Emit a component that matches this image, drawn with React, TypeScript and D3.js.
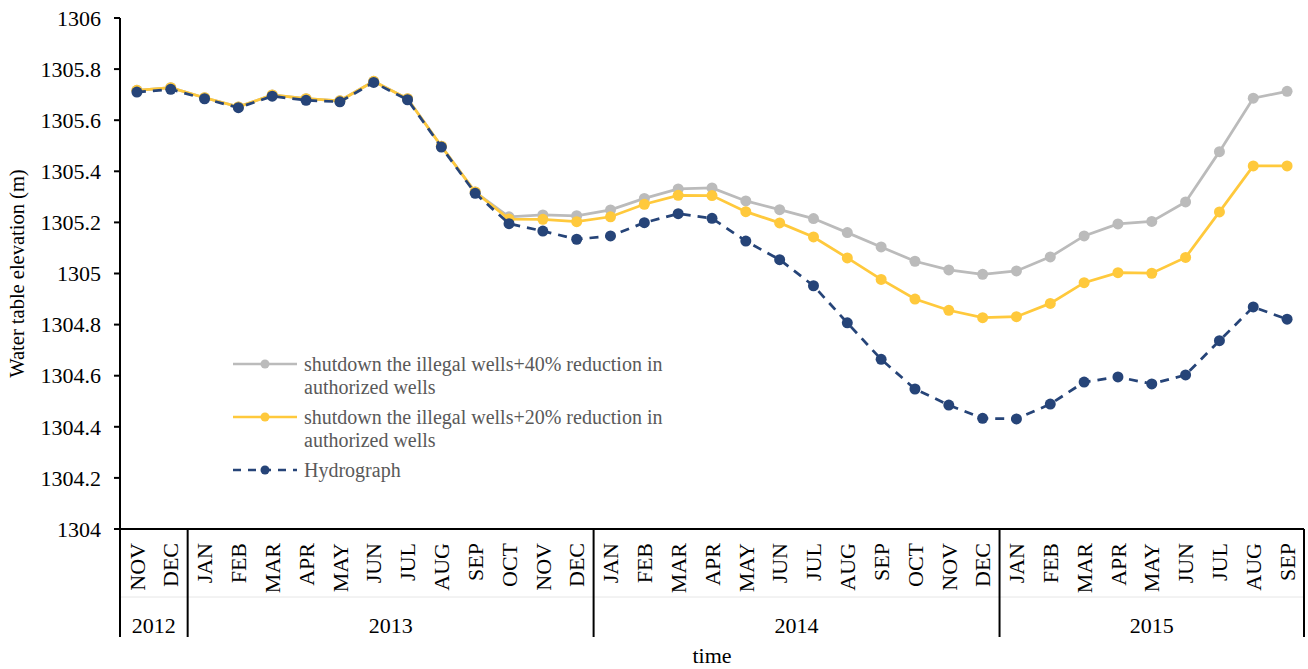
import React from "react";
import * as d3 from "d3";

// Month categories grouped by year
const years = ["2012", "2013", "2014", "2015"];
const monthsByYear: string[][] = [
  ["NOV", "DEC"],
  ["JAN", "FEB", "MAR", "APR", "MAY", "JUN", "JUL", "AUG", "SEP", "OCT", "NOV", "DEC"],
  ["JAN", "FEB", "MAR", "APR", "MAY", "JUN", "JUL", "AUG", "SEP", "OCT", "NOV", "DEC"],
  ["JAN", "FEB", "MAR", "APR", "MAY", "JUN", "JUL", "AUG", "SEP"],
];

const yTicks = [1304, 1304.2, 1304.4, 1304.6, 1304.8, 1305, 1305.2, 1305.4, 1305.6, 1305.8, 1306];

// Water table elevation (m), scenario: illegal wells shut + 40% cut in authorized wells
const reduction40 = [
  1305.717, 1305.727, 1305.688, 1305.652, 1305.699, 1305.684, 1305.676, 1305.752, 1305.684, 1305.498,
  1305.319, 1305.222, 1305.229, 1305.226, 1305.249, 1305.294, 1305.331, 1305.335, 1305.284, 1305.250,
  1305.215, 1305.160, 1305.104, 1305.048, 1305.014, 1304.997, 1305.010, 1305.065, 1305.147, 1305.194,
  1305.204, 1305.280, 1305.477, 1305.686, 1305.713,
];

// Scenario: illegal wells shut + 20% cut in authorized wells
const reduction20 = [
  1305.717, 1305.727, 1305.688, 1305.652, 1305.699, 1305.684, 1305.676, 1305.752, 1305.684, 1305.498,
  1305.319, 1305.213, 1305.212, 1305.203, 1305.222, 1305.271, 1305.306, 1305.305, 1305.242, 1305.198,
  1305.143, 1305.061, 1304.977, 1304.900, 1304.856, 1304.827, 1304.831, 1304.883, 1304.964, 1305.003,
  1305.001, 1305.063, 1305.241, 1305.421, 1305.421,
];

// Observed hydrograph
const hydrograph = [
  1305.710, 1305.721, 1305.684, 1305.649, 1305.694, 1305.678, 1305.672, 1305.748, 1305.680, 1305.495,
  1305.314, 1305.195, 1305.166, 1305.134, 1305.147, 1305.199, 1305.234, 1305.216, 1305.127, 1305.054,
  1304.952, 1304.807, 1304.664, 1304.548, 1304.485, 1304.433, 1304.431, 1304.489, 1304.575, 1304.595,
  1304.568, 1304.603, 1304.737, 1304.869, 1304.821,
];

const seriesNames = [
  ["shutdown the illegal wells+40% reduction in", "authorized wells"],
  ["shutdown the illegal wells+20% reduction in", "authorized wells"],
  ["Hydrograph"],
];

const COLORS = ["#BBBBBB", "#FFC93C", "#264478"];
const FONT = "'Liberation Serif', 'Times New Roman', serif";

export default function App() {
  const W = 1308;
  const H = 669;
  const left = 120;
  const right = 1304;
  const top = 18;
  const bottom = 529;

  const categories: { key: string; month: string; yearIdx: number }[] = [];
  monthsByYear.forEach((ms, yi) => ms.forEach((m) => categories.push({ key: `${years[yi]}-${m}`, month: m, yearIdx: yi })));

  const x = d3
    .scaleBand<string>()
    .domain(categories.map((c) => c.key))
    .range([left, right])
    .padding(0);
  const xc = (i: number) => (x(categories[i].key) as number) + x.bandwidth() / 2;
  const y = d3.scaleLinear().domain([1304, 1306]).range([bottom, top]);

  const line = d3
    .line<number>()
    .x((_, i) => xc(i))
    .y((d) => y(d));

  const series = [reduction40, reduction20, hydrograph];

  // Group boundaries on the category axis
  const boundaries: number[] = [];
  let acc = 0;
  boundaries.push(left);
  monthsByYear.forEach((ms) => {
    acc += ms.length;
    boundaries.push(acc >= categories.length ? right : (x(categories[acc].key) as number));
  });

  const axisBottom = 637;
  const midRule = 597;

  const legendX0 = 233;
  const legendX1 = 297;
  const legendRows = [364, 417, 470];

  const txt = { fontFamily: FONT };

  return (
    <svg width={W} height={H} style={{ position: "absolute", left: 0, top: 0, background: "#fff" }} fontFamily={FONT}>
      {/* y axis */}
      <line x1={left} x2={left} y1={top} y2={axisBottom} stroke="#000" strokeWidth={2} />
      {yTicks.map((t) => (
        <g key={t}>
          <line x1={left - 6} x2={left} y1={y(t)} y2={y(t)} stroke="#000" strokeWidth={2} />
          <text style={txt} x={left - 19} y={y(t)} dy="0.35em" textAnchor="end" fontSize={22} fill="#000">
            {d3.format("")(+t.toFixed(1))}
          </text>
        </g>
      ))}
      <text
        style={txt}
        transform={`translate(24,${(top + bottom) / 2}) rotate(-90)`}
        textAnchor="middle"
        fontSize={20.5}
        fill="#000"
      >
        Water table elevation (m)
      </text>

      {/* category axis */}
      <line x1={left} x2={right} y1={midRule} y2={midRule} stroke="#e6e6e6" strokeWidth={1} />
      <line x1={left - 6} x2={right} y1={bottom} y2={bottom} stroke="#000" strokeWidth={2} />
      {boundaries.map((b, i) => (
        <line key={i} x1={b} x2={b} y1={bottom} y2={axisBottom} stroke="#000" strokeWidth={2} />
      ))}
      {categories.map((c, i) => (
        <text
          key={c.key}
          style={txt}
          transform={`translate(${xc(i)},${543}) rotate(-90)`}
          textAnchor="end"
          dy="0.35em"
          fontSize={22}
          fill="#000"
        >
          {c.month}
        </text>
      ))}
      {years.map((yr, i) => (
        <text
          key={yr}
          style={txt}
          x={(boundaries[i] + boundaries[i + 1]) / 2}
          y={625}
          textAnchor="middle"
          dy="0.35em"
          fontSize={22}
          fill="#000"
        >
          {yr}
        </text>
      ))}
      <text style={txt} x={(left + right) / 2} y={655} textAnchor="middle" dy="0.35em" fontSize={22} fill="#000">
        time
      </text>

      {/* series */}
      {series.map((s, si) => (
        <g key={si}>
          <path
            d={line(s) as string}
            fill="none"
            stroke={COLORS[si]}
            strokeWidth={2.75}
            strokeDasharray={si === 2 ? "9,7" : undefined}
          />
          {s.map((v, i) => (
            <circle key={i} cx={xc(i)} cy={y(v)} r={5.5} fill={COLORS[si]} />
          ))}
        </g>
      ))}

      {/* legend */}
      {seriesNames.map((lines, si) => (
        <g key={si}>
          <line
            x1={legendX0}
            x2={legendX1}
            y1={legendRows[si]}
            y2={legendRows[si]}
            stroke={COLORS[si]}
            strokeWidth={2.5}
            strokeDasharray={si === 2 ? "8,7" : undefined}
          />
          <circle cx={(legendX0 + legendX1) / 2} cy={legendRows[si]} r={4.5} fill={COLORS[si]} />
          {lines.map((ln, li) => (
            <text key={li} style={txt} x={304} y={legendRows[si] + li * 23} dy="0.35em" fontSize={20} fill="#595959">
              {ln}
            </text>
          ))}
        </g>
      ))}
    </svg>
  );
}
